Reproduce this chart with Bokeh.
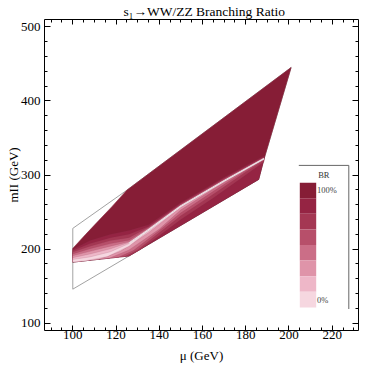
import numpy as np
from bokeh.plotting import figure
from bokeh.models import LinearAxis, SingleIntervalTicker, Label, Range1d
from bokeh.embed import file_html
from bokeh.resources import INLINE

# ---------------- data ----------------
title_text = "s\u2081\u2192WW/ZZ Branching Ratio"
x_label = "\u03bc (GeV)"
y_label = "mII (GeV)"
legend_title = "BR"
legend_tick_labels = ["100%", "0%"]

# BR colour scale, 0% -> 100%
br_palette = ["#F6D7E0", "#EEB7C8", "#DF94A9", "#CB6E87",
              "#B74F6A", "#A43753", "#952443", "#861D36"]

# scan boundary (thin grey outline)
bound_mu = [100, 126, 186, 188.5, 201, 125, 100]
bound_mh = [146, 190.7, 294, 322, 445, 279.5, 228]

# region where the BR is computed (filled with the top level)
region_mu = [100, 126, 186, 188.5, 201, 125, 118, 112, 106, 100]
region_mh = [182.5, 190.7, 294, 322, 445, 279.5, 257, 238.5, 220, 201]

# nested BR contour bands (outer = high BR, inner = low BR)
band_level = [6, 5, 4, 3, 2, 1, 0]
band_mu = [
    [100, 126, 186, 188.5, 188.5, 170, 150, 135, 126, 117.5, 108, 100],
    [100, 126, 131, 140, 150, 165, 180, 188.5, 188.5, 170, 150, 135, 126, 117.5, 108, 100],
    [100, 124, 130, 140, 150, 165, 180, 188.5, 188.5, 170, 150, 135, 126, 117.5, 108, 100],
    [100, 121, 128, 140, 150, 165, 180, 188.5, 188.5, 170, 150, 135, 126, 117.5, 108, 100],
    [100, 117, 126, 140, 150, 165, 180, 188.5, 188.5, 170, 150, 135, 126, 117.5, 108, 100],
    [100, 112, 122, 135, 150, 170, 188.5, 188.5, 170, 150, 135, 126, 117.5, 108, 100],
    [100, 106, 116, 126, 135, 150, 170, 188.5, 188.5, 170, 150, 135, 126, 117.5, 108, 100],
]
band_mh = [
    [182.5, 190.7, 294, 322, 326, 297, 263, 233, 225, 220, 211.5, 200],
    [182.5, 190.7, 199, 218, 240, 269, 300, 318, 324.5, 295.5, 261.5, 230.5, 220, 215.5, 207.5, 198],
    [182.5, 190.1, 199, 222, 245, 274, 304, 320, 323.8, 294.5, 260.5, 229.5, 215.5, 211.5, 204, 196],
    [182.5, 189.1, 198, 225, 249, 278, 306, 321, 323.2, 293.7, 259.8, 228.5, 212, 207.5, 200.5, 193.5],
    [182.5, 187.9, 199, 227, 253, 281, 307.5, 321.5, 322.8, 293, 259.2, 227.5, 210, 204, 197, 191],
    [182.5, 186.3, 197, 222, 256.5, 291, 321.7, 322.4, 292.6, 258.7, 226.8, 209, 200.5, 193.5, 188.5],
    [182.5, 184.4, 190, 204, 224.5, 257.5, 291.6, 321.9, 322.1, 292.2, 258.2, 226, 207.5, 196.5, 189.5, 186],
]

# narrow BR minimum ("valley") line
streak_mu = [126, 135, 150, 170, 188.5]
streak_mh = [208, 226, 258, 292, 322]

# ---------------- layout ----------------
FONT = "Liberation Serif"
W, H = 362, 366
FL, FT = 44, 16            # frame left / top (page px, figure placed at 0,0)
FW, FH = 314, 314          # frame size
XR = (86.91, 232.17)
YR = (90.25, 509.75)


def px2x(px):
    return XR[0] + (px - FL) * (XR[1] - XR[0]) / FW


def py2y(py):
    return YR[1] - (py - FT) * (YR[1] - YR[0]) / FH


p = figure(width=W, height=H, x_range=Range1d(*XR), y_range=Range1d(*YR),
           output_backend="svg", toolbar_location=None,
           x_axis_location=None, y_axis_location=None,
           min_border_left=FL, min_border_right=W - FL - FW,
           min_border_top=FT, min_border_bottom=H - FT - FH,
           margin=(0, 0, 0, 0))
p.outline_line_color = None
p.background_fill_color = "white"
p.border_fill_color = "white"
p.grid.visible = False

p.title.text = title_text
p.title.align = "left"
p.title.offset = 79
p.title.text_font = FONT
p.title.text_font_size = "13.5px"
p.title.text_font_style = "normal"
p.title.text_color = "black"
p.title.standoff = 2


def make_axis(interval, nminor, maj, mino, labels, label_text=None,
              tick_standoff=0, label_standoff=0):
    ax = LinearAxis(ticker=SingleIntervalTicker(interval=interval, num_minor_ticks=nminor))
    ax.major_tick_in = maj
    ax.major_tick_out = 0
    ax.minor_tick_in = mino
    ax.minor_tick_out = 0
    ax.axis_line_color = "black"
    ax.axis_line_width = 1
    ax.major_tick_line_color = "black"
    ax.minor_tick_line_color = "black"
    if labels:
        ax.major_label_text_font = FONT
        ax.major_label_text_font_size = "13px"
        ax.major_label_text_color = "black"
        ax.major_label_standoff = tick_standoff
        ax.axis_label = label_text
        ax.axis_label_text_font = FONT
        ax.axis_label_text_font_size = "13px"
        ax.axis_label_text_font_style = "normal"
        ax.axis_label_text_color = "black"
        ax.axis_label_standoff = label_standoff
    else:
        ax.major_label_text_font_size = "0px"
        ax.major_label_standoff = 0
        ax.major_label_text_color = None
    return ax


p.add_layout(make_axis(20, 4, 5, 3, True, x_label, tick_standoff=0, label_standoff=6), "below")
p.add_layout(make_axis(20, 4, 5, 3, False), "above")
p.add_layout(make_axis(100, 5, 6, 3, True, y_label, tick_standoff=4, label_standoff=-3), "left")
p.add_layout(make_axis(100, 5, 6, 3, False), "right")

# boundary outline
p.patch(bound_mu, bound_mh, fill_color=None, line_color="#8a8a8a", line_width=0.8)

# filled region and contour bands
p.patch(region_mu, region_mh, fill_color=br_palette[7], line_color=br_palette[7], line_width=0.6)
for lvl, xs, ys in zip(band_level, band_mu, band_mh):
    p.patch(xs, ys, fill_color=br_palette[lvl], line_color="#7a3048",
            line_alpha=0.25, line_width=0.5)

# the narrow minimum
p.line(streak_mu, streak_mh, line_color="#f4e9ed", line_width=1.4)
p.line(streak_mu, streak_mh, line_color="#9a8a90", line_width=0.5, line_alpha=0.6,
       line_dash="1 1")

# ---------------- legend ----------------
sw_l, sw_r, sw_t, sw_b = 299.3, 315.7, 180.7, 306.7
n = len(br_palette)
step = (sw_b - sw_t) / n
tops, bottoms, cols = [], [], []
for i in range(n):
    tops.append(py2y(sw_t + i * step))
    bottoms.append(py2y(sw_t + (i + 1) * step))
    cols.append(br_palette[n - 1 - i])
p.quad(left=px2x(sw_l), right=px2x(sw_r), top=tops, bottom=bottoms,
       fill_color=cols, line_color=None)

p.line([px2x(298.3), px2x(348.3), px2x(348.3)], [py2y(163.3), py2y(163.3), py2y(308.3)],
       line_color="#666666", line_width=1)

p.add_layout(Label(x=px2x(323.3), y=py2y(173.3), text=legend_title, text_font=FONT,
                   text_font_size="8.5px", text_align="center", text_baseline="middle",
                   text_color="#333333"))
p.add_layout(Label(x=px2x(316.5), y=py2y(sw_t + step / 2), text=legend_tick_labels[0],
                   text_font=FONT, text_font_size="8.5px", text_align="left",
                   text_baseline="middle", text_color="#444444"))
p.add_layout(Label(x=px2x(316.5), y=py2y(sw_b - step / 2), text=legend_tick_labels[1],
                   text_font=FONT, text_font_size="8.5px", text_align="left",
                   text_baseline="middle", text_color="#444444"))

open("out.html", "w").write(file_html(p, INLINE))
